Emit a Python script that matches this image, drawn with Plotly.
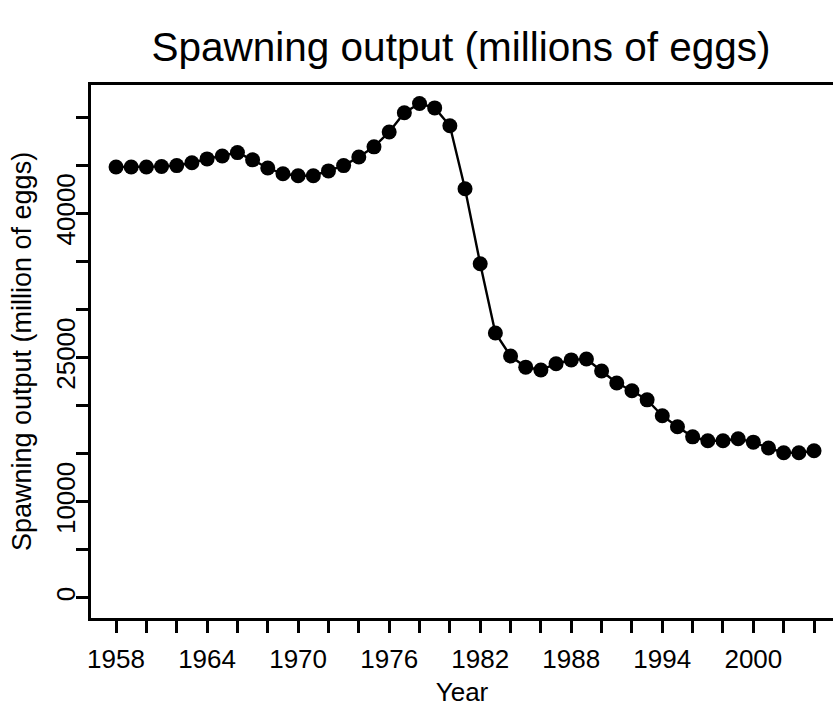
import plotly.graph_objects as go

# Annual spawning output (million of eggs), 1958-2004
years = list(range(1958, 2005))
spawning = [
    44800, 44800, 44800, 44850, 44950, 45250, 45650, 45950, 46300, 45550,
    44700, 44100, 43900, 43900, 44400, 44950, 45850, 46900, 48450, 50450,
    51400, 50950, 49100, 42550, 34750, 27550, 25150, 24000, 23700, 24350,
    24750, 24850, 23600, 22350, 21550, 20600, 18950, 17800, 16750, 16350,
    16350, 16550, 16200, 15600, 15100, 15100, 15300,
]

x_tick_years = list(range(1958, 2005, 2))
x_tick_text = [str(y) if (y - 1958) % 6 == 0 else "" for y in x_tick_years]
y_tick_vals = list(range(0, 50001, 5000))
y_labelled = {0, 10000, 25000, 40000}
y_tick_text = [str(v) if v in y_labelled else "" for v in y_tick_vals]

FONT = "Liberation Sans, Arial, sans-serif"

fig = go.Figure(
    go.Scatter(
        x=years,
        y=spawning,
        mode="lines+markers",
        line=dict(color="black", width=2.4),
        marker=dict(size=15, color="black"),
        showlegend=False,
        hoverinfo="x+y",
    )
)

fig.update_layout(
    width=833,
    height=711,
    margin=dict(l=91, r=0, t=85, b=93),
    plot_bgcolor="white",
    paper_bgcolor="white",
    font=dict(family=FONT, color="black", size=26),
    title=dict(
        text="Spawning output (millions of eggs)",
        x=461 / 833,
        xanchor="center",
        y=1 - 47 / 711,
        yanchor="middle",
        font=dict(size=40.5, family=FONT, color="black"),
    ),
)

fig.update_xaxes(
    range=[1956.35, 2005.25],
    tickmode="array",
    tickvals=x_tick_years,
    ticktext=x_tick_text,
    ticks="outside",
    ticklen=12,
    tickwidth=2.5,
    tickcolor="black",
    ticklabelstandoff=4,
    showline=True,
    linewidth=2.5,
    linecolor="black",
    mirror=True,
    showgrid=False,
    zeroline=False,
    tickfont=dict(size=26),
    title=dict(text="Year", font=dict(size=26), standoff=10),
)

fig.update_yaxes(
    range=[-2080, 53330],
    tickmode="array",
    tickvals=y_tick_vals,
    ticktext=y_tick_text,
    tickangle=-90,
    ticks="outside",
    ticklen=12,
    tickwidth=2.5,
    tickcolor="black",
    ticklabelstandoff=-9,
    showline=True,
    linewidth=2.5,
    linecolor="black",
    showgrid=False,
    zeroline=False,
    tickfont=dict(size=26),
    title=dict(text="Spawning output (million of eggs)", font=dict(size=27), standoff=12),
)

fig.write_html("out.html")
